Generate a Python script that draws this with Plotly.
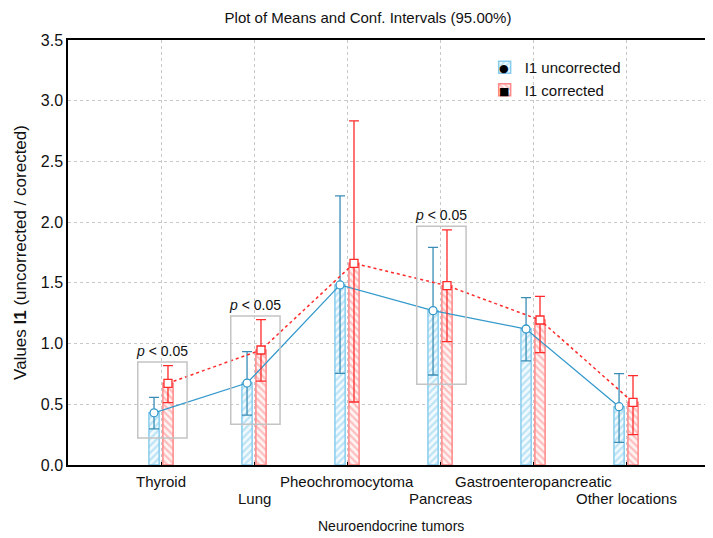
import numpy as np
import plotly.graph_objects as go

categories = ["Thyroid", "Lung", "Pheochromocytoma", "Pancreas",
              "Gastroenteropancreatic", "Other locations"]
label_row = [0, 1, 0, 1, 0, 1]

unc_mean = [0.43, 0.675, 1.483, 1.271, 1.12, 0.48]
unc_low = [0.297, 0.41, 0.755, 0.741, 0.857, 0.187]
unc_high = [0.557, 0.933, 2.216, 1.793, 1.378, 0.752]

cor_mean = [0.673, 0.947, 1.661, 1.477, 1.194, 0.516]
cor_low = [0.513, 0.69, 0.519, 1.016, 0.925, 0.25]
cor_high = [0.818, 1.197, 2.834, 1.936, 1.389, 0.736]

signif_idx = [0, 1, 3]
signif_text = "<i>p</i> < 0.05"

y_ticks = [0.0, 0.5, 1.0, 1.5, 2.0, 2.5, 3.0, 3.5]

FONT = "Liberation Sans, Arial, sans-serif"
BLUE = "#3399cc"
BLUE_ERR = "#3a8db5"
BLUE_BAR = "#88cdee"
RED = "#ff2a2a"
RED_BAR = "#ff8888"

# page body has an 8px margin: figure is sized/placed to compensate
W, H = 705, 530
PL, PT, PB = 60, 32, 73
PW, PH = W - PL, H - PT - PB

pos = np.arange(len(categories))
off = 0.075
bw = 0.11

unc_mean_a = np.array(unc_mean)
cor_mean_a = np.array(cor_mean)

fig = go.Figure()

fig.add_trace(go.Bar(
    x=pos - off, y=unc_mean, width=bw, name="I1 uncorrected",
    marker=dict(color="white", line=dict(color=BLUE_BAR, width=1.5),
                pattern=dict(shape="/", fgcolor=BLUE_BAR, bgcolor="#f2fafe",
                             size=5, solidity=0.45)),
    showlegend=True, legendrank=1, hoverinfo="skip"))
fig.add_trace(go.Bar(
    x=pos + off, y=cor_mean, width=bw, name="I1 corrected",
    marker=dict(color="white", line=dict(color=RED_BAR, width=1.5),
                pattern=dict(shape="\\", fgcolor=RED_BAR, bgcolor="#fff4f4",
                             size=5, solidity=0.45)),
    showlegend=True, legendrank=2, hoverinfo="skip"))

fig.add_trace(go.Scatter(
    x=pos - off, y=unc_mean, mode="lines+markers", showlegend=False,
    line=dict(color=BLUE, width=1.3),
    marker=dict(symbol="circle", size=8, color="white",
                line=dict(color=BLUE, width=1.3)),
    error_y=dict(type="data", symmetric=False,
                 array=np.array(unc_high) - unc_mean_a,
                 arrayminus=unc_mean_a - np.array(unc_low),
                 color=BLUE_ERR, thickness=1.3, width=5)))
fig.add_trace(go.Scatter(
    x=pos + off, y=cor_mean, mode="lines+markers", showlegend=False,
    line=dict(color=RED, width=1.5, dash="dot"),
    marker=dict(symbol="square", size=8, color="white",
                line=dict(color=RED, width=1.3)),
    error_y=dict(type="data", symmetric=False,
                 array=np.array(cor_high) - cor_mean_a,
                 arrayminus=cor_mean_a - np.array(cor_low),
                 color=RED, thickness=1.3, width=5)))

# significance boxes
for i in signif_idx:
    lo = min(unc_low[i], cor_low[i]) - 0.075
    hi = max(unc_high[i], cor_high[i]) + 0.03
    fig.add_shape(type="rect", xref="x", yref="y",
                  x0=i - 0.25, x1=i + 0.28, y0=lo, y1=hi,
                  line=dict(color="#c4c4c4", width=1.5), layer="above")
    fig.add_annotation(x=i + 0.01, y=hi, xref="x", yref="y", text=signif_text,
                       showarrow=False, yanchor="bottom", yshift=1,
                       font=dict(family=FONT, size=14, color="#111"))

# category labels in two staggered rows
for i, (c, r) in enumerate(zip(categories, label_row)):
    fig.add_annotation(x=i, y=0, xref="x", yref="paper", text=c,
                       showarrow=False, yanchor="top", yshift=-6 - 17 * r,
                       font=dict(family=FONT, size=15, color="#111"))

fig.add_annotation(x=0.5, y=0, xref="paper", yref="paper",
                   text="Neuroendocrine tumors", showarrow=False,
                   yanchor="top", yshift=-51,
                   font=dict(family=FONT, size=14, color="#111"))

# black symbols inside the legend icons (window px -> paper coords)
def px(xw):
    return (xw - 8 - PL) / PW


def py(yw):
    return 1 - (yw - 8 - PT) / PH


fig.add_annotation(x=px(504), y=py(68), xref="paper", yref="paper",
                   text="●", showarrow=False, xanchor="center", yanchor="middle",
                   font=dict(family="DejaVu Sans", size=11, color="black"))
fig.add_annotation(x=px(504), y=py(91), xref="paper", yref="paper",
                   text="■", showarrow=False, xanchor="center", yanchor="middle",
                   font=dict(family="DejaVu Sans", size=11, color="black"))

fig.update_layout(
    width=W, height=H,
    margin=dict(l=PL, r=0, t=PT, b=PB, autoexpand=False),
    paper_bgcolor="white", plot_bgcolor="white",
    barmode="overlay",
    title=dict(text="Plot of Means and Conf. Intervals (95.00%)",
               x=360 / W, xanchor="center", y=1 - 10 / H, yanchor="middle",
               font=dict(family=FONT, size=15, color="#111")),
    font=dict(family=FONT, size=15, color="#111"),
    legend=dict(x=0.646, y=0.974, xanchor="left", yanchor="top",
                bgcolor="rgba(0,0,0,0)", font=dict(family=FONT, size=15, color="#111"),
                itemwidth=30, tracegroupgap=2),
    xaxis=dict(range=[-1, 5.935], tickvals=list(pos), ticktext=[""] * len(pos),
               showgrid=True, gridcolor="#c8c8c8", griddash="dot", gridwidth=1,
               showline=True, linecolor="black", linewidth=1.5, mirror=True,
               ticks="inside", ticklen=3, tickcolor="black", zeroline=False,
               automargin=False),
    yaxis=dict(range=[0, 3.5], tickvals=y_ticks, tickformat=".1f",
               showgrid=True, gridcolor="#c8c8c8", griddash="dot", gridwidth=1,
               showline=True, linecolor="black", linewidth=1.5,
               ticks="", zeroline=False, automargin=False,
               tickfont=dict(family=FONT, size=16, color="#111"),
               title=dict(text="Values <b>I1</b> (uncorrected / corected)",
                          font=dict(family=FONT, size=17, color="#111"),
                          standoff=10)),
)

fig.write_html("out.html")
